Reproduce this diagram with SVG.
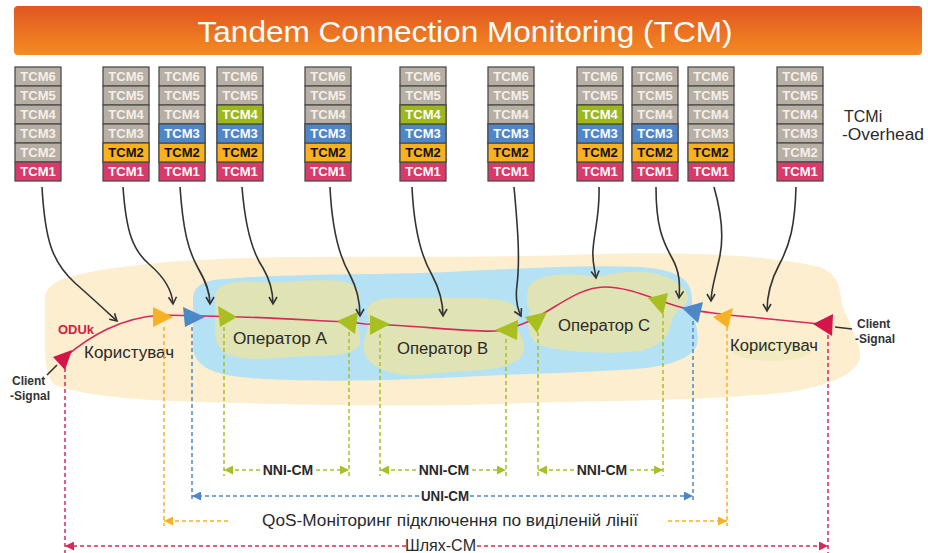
<svg xmlns="http://www.w3.org/2000/svg" xmlns:xlink="http://www.w3.org/1999/xlink" width="928" height="553" viewBox="0 0 928 553">
  <defs>
    <style>
      .cell{stroke:#4e4e4e;stroke-width:1.3}
      .g{fill:#b8afa4}.l1{fill:#d83a69}.l2{fill:#f7b21e}.l3{fill:#4f86c8}.l4{fill:#9db81d}
      .t{font-family:"Liberation Sans",Arial,sans-serif;font-weight:bold;font-size:13px;text-anchor:middle;fill:#ffffff}
      .tg{fill:#f3f0ea}.tb{fill:#111111}
      .lbl{font-family:"Liberation Sans",Arial,sans-serif;font-size:16px;fill:#2a2a2a}
      .sm{font-family:"Liberation Sans",Arial,sans-serif;font-weight:bold;font-size:12px;fill:#333333}
      .dim{font-family:"Liberation Sans",Arial,sans-serif;font-weight:bold;font-size:14px;fill:#2a2a2a;text-anchor:middle}
      .feed{fill:none;stroke:#333333;stroke-width:1.6;marker-end:url(#chev)}
      .dash{fill:none;stroke-width:1.5;stroke-dasharray:4 3}
      .dg{stroke:#a8bf2a}.db{stroke:#4f86c6}.do{stroke:#f7b125}.dr{stroke:#d9285a}
    </style>
    <linearGradient id="titleGrad" x1="0" y1="0" x2="0" y2="1">
      <stop offset="0" stop-color="#e05623"/>
      <stop offset="1" stop-color="#f58b21"/>
    </linearGradient>
    <marker id="chev" viewBox="0 0 10 10" refX="8" refY="5" markerWidth="10" markerHeight="10" markerUnits="userSpaceOnUse" orient="auto">
      <path d="M1,1 L8,5 L1,9" fill="none" stroke="#333333" stroke-width="1.6"/>
    </marker>
    <marker id="ag" viewBox="0 0 10 10" refX="10" refY="5" markerWidth="9" markerHeight="9" markerUnits="userSpaceOnUse" orient="auto-start-reverse"><path d="M0,0 L10,5 L0,10 z" fill="#a8bf2a"/></marker>
    <marker id="ab" viewBox="0 0 10 10" refX="10" refY="5" markerWidth="9" markerHeight="9" markerUnits="userSpaceOnUse" orient="auto-start-reverse"><path d="M0,0 L10,5 L0,10 z" fill="#4f86c6"/></marker>
    <marker id="ao" viewBox="0 0 10 10" refX="10" refY="5" markerWidth="9" markerHeight="9" markerUnits="userSpaceOnUse" orient="auto-start-reverse"><path d="M0,0 L10,5 L0,10 z" fill="#f7b125"/></marker>
    <marker id="ar" viewBox="0 0 10 10" refX="10" refY="5" markerWidth="9" markerHeight="9" markerUnits="userSpaceOnUse" orient="auto-start-reverse"><path d="M0,0 L10,5 L0,10 z" fill="#d9285a"/></marker>

    <!-- overhead stack: six grey TCM fields -->
    <g id="gray">
      <rect class="cell g" x="0" y="0" width="46" height="19"/><text class="t tg" x="23" y="14">TCM6</text>
      <rect class="cell g" x="0" y="19" width="46" height="19"/><text class="t tg" x="23" y="33">TCM5</text>
      <rect class="cell g" x="0" y="38" width="46" height="19"/><text class="t tg" x="23" y="52">TCM4</text>
      <rect class="cell g" x="0" y="57" width="46" height="19"/><text class="t tg" x="23" y="71">TCM3</text>
      <rect class="cell g" x="0" y="76" width="46" height="19"/><text class="t tg" x="23" y="90">TCM2</text>
    </g>
    <!-- active TCM levels -->
    <g id="c1"><rect class="cell l1" x="0" y="95" width="46" height="19"/><text class="t" x="23" y="109">TCM1</text></g>
    <g id="c2"><rect class="cell l2" x="0" y="76" width="46" height="19"/><text class="t tb" x="23" y="90">TCM2</text></g>
    <g id="c3"><rect class="cell l3" x="0" y="57" width="46" height="19"/><text class="t" x="23" y="71">TCM3</text></g>
    <g id="c4"><rect class="cell l4" x="0" y="38" width="46" height="19"/><text class="t" x="23" y="52">TCM4</text></g>
  </defs>

  <rect width="928" height="553" fill="#ffffff"/>

  <!-- title bar -->
  <g id="title">
    <rect x="14" y="6" width="908" height="49" rx="4" fill="url(#titleGrad)"/>
    <text x="465" y="42" font-family="'Liberation Sans',Arial,sans-serif" font-size="30" fill="#ffffff" text-anchor="middle" textLength="535" lengthAdjust="spacingAndGlyphs">Tandem Connection Monitoring (TCM)</text>
  </g>

  <!-- network domains -->
  <g id="domains">
    <path id="user-domain" fill="#fdeecf" d="M45,300 C45,284 60,278 90,272 C150,261 220,258 300,257 C400,256 500,258 600,254 C700,251 780,257 820,267 C840,275 840,290 842,305 C850,325 862,345 860,358 C855,375 830,385 790,392 C700,402 600,400 500,404 C400,407 300,405 200,402 C130,400 80,395 55,385 C46,378 45,360 45,340 Z"/>
    <path id="carrier-domain" fill="#b4e1f3" d="M193,300 C193,285 205,280 225,279 C280,274 350,275 420,273 C500,270 580,264 640,267 C680,270 692,280 692,300 C692,315 700,330 697,345 C690,362 660,368 620,370 C560,374 500,374 440,378 C380,381 300,382 250,378 C210,375 193,365 193,345 Z"/>
    <path id="op-a-area" fill="#e0e3b4" d="M215,300 C213,285 230,280 260,282 C290,284 320,277 345,282 C362,286 362,300 356,310 C352,320 364,335 359,345 C352,358 320,355 290,357 C260,360 225,362 218,345 C212,330 217,315 215,300 Z"/>
    <path id="op-b-area" fill="#e0e3b4" d="M370,305 C375,296 400,298 430,298 C460,298 490,296 508,302 C522,308 518,320 518,330 C525,340 528,355 515,362 C495,372 460,370 430,374 C400,378 372,370 365,355 C360,340 372,325 368,315 C366,310 368,307 370,305 Z"/>
    <path id="op-c-area" fill="#e0e3b4" d="M528,290 C530,275 560,272 590,276 C605,278 610,272 630,272 C660,270 680,280 688,295 C690,305 675,310 672,320 C670,335 660,350 630,352 C600,354 560,352 540,345 C525,338 528,320 530,310 C525,302 527,295 528,290 Z"/>
    <ellipse cx="772" cy="351" rx="40" ry="10" fill="#f1ecc0"/>
  </g>

  <!-- overhead stacks -->
  <g id="tcm-stack-1" transform="translate(15,67)"><use href="#gray"/><use href="#c1"/></g>
  <g id="tcm-stack-2" transform="translate(103,67)"><use href="#gray"/><use href="#c1"/><use href="#c2"/></g>
  <g id="tcm-stack-3" transform="translate(159,67)"><use href="#gray"/><use href="#c1"/><use href="#c2"/><use href="#c3"/></g>
  <g id="tcm-stack-4" transform="translate(217,67)"><use href="#gray"/><use href="#c1"/><use href="#c2"/><use href="#c3"/><use href="#c4"/></g>
  <g id="tcm-stack-5" transform="translate(305,67)"><use href="#gray"/><use href="#c1"/><use href="#c2"/><use href="#c3"/></g>
  <g id="tcm-stack-6" transform="translate(400,67)"><use href="#gray"/><use href="#c1"/><use href="#c2"/><use href="#c3"/><use href="#c4"/></g>
  <g id="tcm-stack-7" transform="translate(488,67)"><use href="#gray"/><use href="#c1"/><use href="#c2"/><use href="#c3"/></g>
  <g id="tcm-stack-8" transform="translate(577,67)"><use href="#gray"/><use href="#c1"/><use href="#c2"/><use href="#c3"/><use href="#c4"/></g>
  <g id="tcm-stack-9" transform="translate(632,67)"><use href="#gray"/><use href="#c1"/><use href="#c2"/><use href="#c3"/></g>
  <g id="tcm-stack-10" transform="translate(688,67)"><use href="#gray"/><use href="#c1"/><use href="#c2"/></g>
  <g id="tcm-stack-11" transform="translate(777,67)"><use href="#gray"/><use href="#c1"/></g>

  <g id="overhead-label">
    <text class="lbl" x="844" y="122" font-size="15">TCMi</text>
    <text class="lbl" x="842" y="140" font-size="15" textLength="82" lengthAdjust="spacingAndGlyphs">-Overhead</text>
  </g>

  <!-- ODUk path -->
  <g id="oduk-path">
    <path fill="none" stroke="#d9285a" stroke-width="1.6" d="M65,357 C90,336 120,318 160,315 L205,316 L240,317 C290,318 330,322 350,322 L365,324 L390,325 C430,327 470,332 495,331 C510,330 520,325 532,320 C560,305 580,287 605,287 C630,287 655,300 680,307 C700,313 730,315 760,318 L830,325"/>
    <text x="58" y="334" font-family="'Liberation Sans',Arial,sans-serif" font-weight="bold" font-size="12.5" fill="#d0213f" textLength="36" lengthAdjust="spacingAndGlyphs">ODUk</text>
  </g>

  <!-- monitoring points -->
  <g id="endpoints">
    <polygon fill="#d3154a" points="53,357 72,350 65,370"/>
    <polygon fill="#f7b125" points="153,307 153,327 173,317"/>
    <polygon fill="#4f86c6" points="183,307 185,327 205,317"/>
    <polygon fill="#a8bf22" points="218,306 220,327 237,317"/>
    <polygon fill="#a8bf22" points="337,321 358,312 355,334"/>
    <polygon fill="#a8bf22" points="370,315 370,335 390,324"/>
    <polygon fill="#a8bf22" points="495,330 518,320 517,340"/>
    <polygon fill="#a8bf22" points="525,317 547,312 537,333"/>
    <polygon fill="#a8bf22" points="648,298 668,293 663,315"/>
    <polygon fill="#4f86c6" points="682,308 703,302 698,323"/>
    <polygon fill="#f7b125" points="713,317 733,308 728,328"/>
    <polygon fill="#d3154a" points="813,324 833,314 832,336"/>
  </g>

  <!-- client signal labels -->
  <g id="client-in">
    <line x1="47" y1="375" x2="57" y2="365" stroke="#333333" stroke-width="1.6"/>
    <text class="sm" x="12" y="385">Client</text>
    <text class="sm" x="10" y="400">-Signal</text>
  </g>
  <g id="client-out">
    <line x1="835" y1="327" x2="852" y2="329" stroke="#333333" stroke-width="1.6"/>
    <text class="sm" x="857" y="328">Client</text>
    <text class="sm" x="855" y="343">-Signal</text>
  </g>

  <!-- domain labels -->
  <g id="user-a"><text class="lbl" x="84" y="358" textLength="90" lengthAdjust="spacingAndGlyphs">Користувач</text></g>
  <g id="operator-a"><text class="lbl" x="233" y="344" textLength="94" lengthAdjust="spacingAndGlyphs">Оператор A</text></g>
  <g id="operator-b"><text class="lbl" x="397" y="354" textLength="91" lengthAdjust="spacingAndGlyphs">Оператор B</text></g>
  <g id="operator-c"><text class="lbl" x="558" y="331" textLength="92" lengthAdjust="spacingAndGlyphs">Оператор C</text></g>
  <g id="user-b"><text class="lbl" x="730" y="351" textLength="88" lengthAdjust="spacingAndGlyphs">Користувач</text></g>

  <!-- overhead feeds into the path -->
  <g id="connectors">
    <path class="feed" d="M42,187 C45,240 52,262 75,283 C92,298 105,310 117,321"/>
    <path class="feed" d="M123,187 C126,230 132,250 150,265 C165,278 172,290 173,304"/>
    <path class="feed" d="M180,187 C183,230 188,250 198,268 C206,282 210,292 210,304"/>
    <path class="feed" d="M242,187 C245,225 252,252 263,268 C270,280 273,292 273,304"/>
    <path class="feed" d="M330,187 C332,230 340,258 350,275 C358,290 360,303 360,316"/>
    <path class="feed" d="M412,187 C414,230 422,258 432,275 C440,290 443,303 443,316"/>
    <path class="feed" d="M514,187 C518,230 520,260 517,285 C515,300 518,310 521,316"/>
    <path class="feed" d="M599,187 C600,215 594,232 593,250 C592,262 595,270 596,278"/>
    <path class="feed" d="M656,187 C656,225 662,240 672,258 C680,272 680,285 679,298"/>
    <path class="feed" d="M714,187 C722,215 724,240 719,260 C715,278 711,290 711,301"/>
    <path class="feed" d="M796,187 C795,225 790,245 779,265 C770,282 767,298 767,311"/>
  </g>

  <!-- monitoring spans -->
  <g id="spans">
    <line class="dash dr" x1="65" y1="368" x2="65" y2="553"/>
    <line class="dash do" x1="164" y1="327" x2="164" y2="526"/>
    <line class="dash db" x1="192" y1="327" x2="192" y2="501"/>
    <line class="dash dg" x1="224" y1="327" x2="224" y2="476"/>
    <line class="dash dg" x1="349" y1="332" x2="349" y2="476"/>
    <line class="dash dg" x1="380" y1="334" x2="380" y2="476"/>
    <line class="dash dg" x1="506" y1="339" x2="506" y2="476"/>
    <line class="dash dg" x1="538" y1="332" x2="538" y2="476"/>
    <line class="dash dg" x1="663" y1="314" x2="663" y2="476"/>
    <line class="dash db" x1="693" y1="321" x2="693" y2="501"/>
    <line class="dash do" x1="727" y1="327" x2="727" y2="526"/>
    <line class="dash dr" x1="828" y1="335" x2="828" y2="553"/>

    <line class="dash dg" x1="260" y1="470" x2="224" y2="470" marker-end="url(#ag)"/>
    <line class="dash dg" x1="316" y1="470" x2="349" y2="470" marker-end="url(#ag)"/>
    <text class="dim" x="288" y="475">NNI-CM</text>
    <line class="dash dg" x1="416" y1="470" x2="380" y2="470" marker-end="url(#ag)"/>
    <line class="dash dg" x1="472" y1="470" x2="506" y2="470" marker-end="url(#ag)"/>
    <text class="dim" x="444" y="475">NNI-CM</text>
    <line class="dash dg" x1="574" y1="470" x2="538" y2="470" marker-end="url(#ag)"/>
    <line class="dash dg" x1="630" y1="470" x2="663" y2="470" marker-end="url(#ag)"/>
    <text class="dim" x="602" y="475">NNI-CM</text>

    <line class="dash db" x1="419" y1="496" x2="192" y2="496" marker-end="url(#ab)"/>
    <line class="dash db" x1="470" y1="496" x2="693" y2="496" marker-end="url(#ab)"/>
    <text class="dim" x="445" y="500.5" font-size="12" textLength="48" lengthAdjust="spacingAndGlyphs">UNI-CM</text>

    <line class="dash do" x1="228" y1="521" x2="164" y2="521" marker-end="url(#ao)"/>
    <line class="dash do" x1="668" y1="521" x2="727" y2="521" marker-end="url(#ao)"/>
    <text class="lbl" x="262" y="526" font-size="15" textLength="376" lengthAdjust="spacingAndGlyphs">QoS-Моніторинг підключення по виділеній лінії</text>

    <line class="dash dr" x1="406" y1="546" x2="65" y2="546" marker-end="url(#ar)"/>
    <line class="dash dr" x1="477" y1="546" x2="828" y2="546" marker-end="url(#ar)"/>
    <text class="lbl" x="405" y="551" font-size="15" textLength="71" lengthAdjust="spacingAndGlyphs">Шлях-CM</text>
  </g>
</svg>
